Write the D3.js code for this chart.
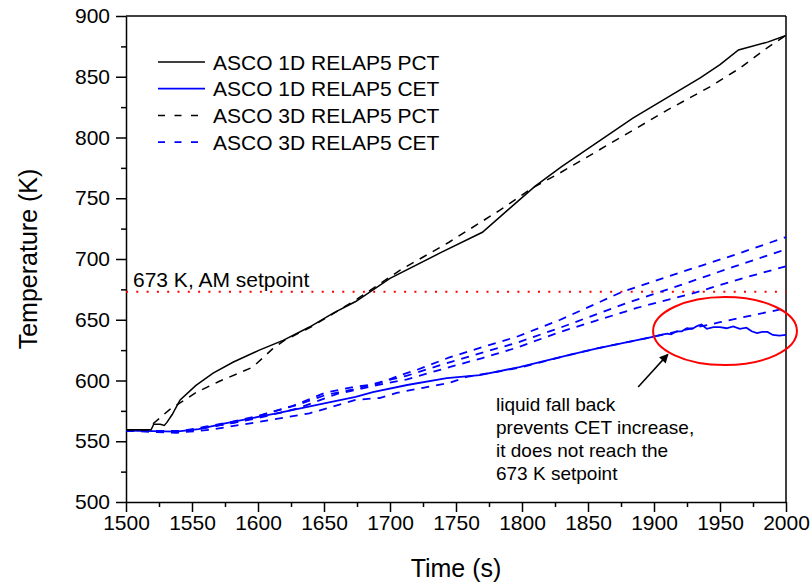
<!DOCTYPE html>
<html>
<head>
<meta charset="utf-8">
<script src="https://cdn.jsdelivr.net/npm/d3@7"></script>
<style>
  body { margin: 0; background: #fff; }
  svg { display: block; font-family: "Liberation Sans", Arial, sans-serif; }
  .axis path, .axis line { stroke: #000; stroke-width: 1.5; }
  .axis text { font-size: 21px; fill: #000; }
</style>
</head>
<body>
<div id="chart"></div>
<script>
// series: [time (s), temperature (K)]
const pct1D = [[1500,559.5],[1519,559.5],[1521,564],[1526,564],[1529,563],[1531,565.5],[1535,572],[1541,584],[1553,596],
  [1566,606],[1581,615],[1601,625],[1619,633],[1639,644],[1657,655.5],[1674,665],[1700,684],[1738,705],[1770,722],
  [1790,741],[1810,760],[1830,776],[1884,816],[1935,849],[1950,860],[1964,872],[1986,878.5],[2000,884]];

const pct3D = [[1500,559.5],[1517,559.5],[1519,563],[1533,576],[1553,590],[1570,599],[1596,611],[1611,626],[1620,633],
  [1640,644],[1657,655],[1675,667],[1708,691],[1745,714],[1783,740],[1808,758.5],[1829,771],[1910,822.5],[1942,841.5],
  [1965,857],[1986,874],[2000,884]];

const cet1D = [[1500,558.7],[1520,558.3],[1538,558],[1555,560],[1576,565],[1600,570],[1614,573],[1652,581.5],[1674,586.5],
  [1687,590.5],[1713,596.3],[1743,602],[1768,604.5],[1798,611],[1836,621],[1857,626.5],[1899,636],[1905,637.5],[1910,638.5],
  [1913,638],[1917,640.5],[1921,640.5],[1925,643],[1929,642.5],[1933,645],[1936,646],[1940,642.5],[1945,644],[1950,644],
  [1955,643],[1960,644.5],[1965,642.5],[1970,643.5],[1974,640.5],[1978,639],[1982,640],[1986,640],[1990,637.5],
  [1995,637],[2000,637.5]];

const cet3D_a = [[1500,558.5],[1538,557],[1563,559.3],[1601,566],[1639,573],[1674,584],[1692,585.6],[1705,589.8],[1725,594],
  [1745,598],[1758,603],[1780,607],[1800,611],[1836,621],[1857,626.5],[1900,636],[1950,648],[2000,659.5]];

const cet3D_b = [[1500,558.5],[1540,558],[1560,562],[1580,566],[1601,571],[1626,579],[1651,590],[1674,595],[1690,597],
  [1708,604.5],[1720,608.6],[1745,619],[1770,627.5],[1796,636],[1829,650],[1876,673],[1920,689],[1960,703],[2000,718]];

const cet3D_c = [[1500,558.5],[1545,558.5],[1565,562],[1590,567],[1607,573],[1630,580],[1651,588],[1674,593],[1694,599],
  [1713,604],[1745,615],[1770,623],[1796,631],[1829,643.5],[1880,664],[1920,678.5],[1960,693.5],[2000,708]];

const cet3D_d = [[1500,558.5],[1545,558],[1570,563],[1600,569],[1630,577],[1660,589],[1694,597],[1713,601],[1745,611],
  [1770,618.5],[1796,627],[1829,640],[1887,659.7],[1930,672],[1970,685],[2000,694]];

const legendLabels = ["ASCO 1D RELAP5 PCT", "ASCO 1D RELAP5 CET", "ASCO 3D RELAP5 PCT", "ASCO 3D RELAP5 CET"];
const xTicks = [1500, 1550, 1600, 1650, 1700, 1750, 1800, 1850, 1900, 1950, 2000];
const yTicks = [500, 550, 600, 650, 700, 750, 800, 850, 900];
const setpoint = 673;
const noteLines = ["liquid fall back", "prevents CET increase,", "it does not reach the", "673 K setpoint"];

const width = 812, height = 586;
const margin = { t: 16, r: 26, b: 84, l: 126 };
const w = width - margin.l - margin.r;
const h = height - margin.t - margin.b;

const svg = d3.select('#chart').append('svg')
    .attr('width', width)
    .attr('height', height);

svg.append('defs').append('marker')
    .attr('id', 'arrow')
    .attr('viewBox', '0 0 10 10')
    .attr('refX', 9).attr('refY', 5)
    .attr('markerWidth', 13).attr('markerHeight', 9)
    .attr('markerUnits', 'userSpaceOnUse')
    .attr('orient', 'auto')
    .append('path')
    .attr('d', 'M0,0L10,5L0,10Z')
    .attr('fill', '#000');

const plot = svg.append('g')
    .attr('transform', `translate(${margin.l},${margin.t})`);

const scaleX = d3.scaleLinear().domain([1500, 2000]).range([0, w]);
const scaleY = d3.scaleLinear().domain([500, 900]).range([h, 0]);

const minorX = d3.range(1525, 2000, 50);
const minorY = d3.range(525, 900, 50);

// minor ticks first, then major axes on top
plot.append('g').attr('class', 'axis')
    .attr('transform', `translate(0,${h})`)
    .call(d3.axisBottom(scaleX).tickValues(minorX).tickSize(5).tickFormat(''))
    .select('.domain').remove();
plot.append('g').attr('class', 'axis')
    .call(d3.axisLeft(scaleY).tickValues(minorY).tickSize(5).tickFormat(''))
    .select('.domain').remove();

plot.append('g').attr('class', 'axis axis-x')
    .attr('transform', `translate(0,${h})`)
    .call(d3.axisBottom(scaleX).tickValues(xTicks).tickSize(10).tickSizeOuter(0).tickPadding(3).tickFormat(d3.format('d')));
plot.append('g').attr('class', 'axis axis-y')
    .call(d3.axisLeft(scaleY).tickValues(yTicks).tickSize(10).tickSizeOuter(0).tickPadding(6).tickFormat(d3.format('d')));

// top and right frame
plot.append('line').attr('x1', 0).attr('x2', w).attr('y1', 0).attr('y2', 0)
    .attr('stroke', '#000').attr('stroke-width', 1.5);
plot.append('line').attr('x1', w).attr('x2', w).attr('y1', 0).attr('y2', h)
    .attr('stroke', '#000').attr('stroke-width', 1.5);

// setpoint
plot.append('line')
    .attr('x1', scaleX(1500)).attr('x2', scaleX(2000))
    .attr('y1', scaleY(setpoint)).attr('y2', scaleY(setpoint))
    .attr('stroke', '#ff0000').attr('stroke-width', 2)
    .attr('stroke-dasharray', '2,8.3');
plot.append('text')
    .attr('x', scaleX(1500) + 7).attr('y', scaleY(setpoint) - 5)
    .attr('font-size', 21)
    .text(`${setpoint} K, AM setpoint`);

const line = d3.line().x(d => scaleX(d[0])).y(d => scaleY(d[1]));

const series = [
    { data: cet3D_a, color: '#0000ff', dash: '8,7', sw: 1.8 },
    { data: cet3D_b, color: '#0000ff', dash: '8,7', sw: 1.8 },
    { data: cet3D_c, color: '#0000ff', dash: '8,7', sw: 1.8 },
    { data: cet3D_d, color: '#0000ff', dash: '8,7', sw: 1.8 },
    { data: cet1D, color: '#0000ff', dash: null, sw: 1.8 },
    { data: pct3D, color: '#000', dash: '8,7', sw: 1.5 },
    { data: pct1D, color: '#000', dash: null, sw: 1.5 }
];

plot.selectAll('.series')
    .data(series)
    .enter().append('path')
    .attr('class', 'series')
    .attr('d', d => line(d.data))
    .attr('fill', 'none')
    .attr('stroke', d => d.color)
    .attr('stroke-width', d => d.sw)
    .attr('stroke-dasharray', d => d.dash);

// ellipse around the CET plateau
const ex = 1953.8, ey = 640.7, erx = 54.5, ery = 28;
plot.append('ellipse')
    .attr('cx', scaleX(ex)).attr('cy', scaleY(ey))
    .attr('rx', scaleX(1500 + erx) - scaleX(1500))
    .attr('ry', scaleY(500) - scaleY(500 + ery))
    .attr('fill', 'none')
    .attr('stroke', '#ff0000')
    .attr('stroke-width', 2);

// arrow + note
plot.append('line')
    .attr('x1', scaleX(1888)).attr('y1', scaleY(594.7))
    .attr('x2', scaleX(1910.5)).attr('y2', scaleY(621.5))
    .attr('stroke', '#000').attr('stroke-width', 1.5)
    .attr('marker-end', 'url(#arrow)');

plot.append('text')
    .attr('font-size', 19)
    .attr('y', scaleY(575.2))
    .selectAll('tspan')
    .data(noteLines)
    .enter().append('tspan')
    .attr('x', scaleX(1780.3))
    .attr('dy', (d, i) => i === 0 ? 0 : 23)
    .text(d => d);

// legend
const legendStyle = [
    { color: '#000', dash: null },
    { color: '#0000ff', dash: null },
    { color: '#000', dash: '7,9.5' },
    { color: '#0000ff', dash: '7,9.5' }
];
const legend = svg.append('g').attr('class', 'legend');
const item = legend.selectAll('g')
    .data(legendLabels)
    .enter().append('g')
    .attr('transform', (d, i) => `translate(158,${62 + i * 26.7})`);
item.append('line')
    .attr('x1', 0).attr('x2', 47)
    .attr('stroke', (d, i) => legendStyle[i].color)
    .attr('stroke-width', (d, i) => i % 2 ? 1.8 : 1.5)
    .attr('stroke-dasharray', (d, i) => legendStyle[i].dash);
item.append('text')
    .attr('x', 55).attr('y', 7.5)
    .attr('font-size', 21)
    .text(d => d);

// axis titles
svg.append('text')
    .attr('x', margin.l + w / 2).attr('y', 577)
    .attr('text-anchor', 'middle')
    .attr('font-size', 25)
    .text('Time (s)');
svg.append('text')
    .attr('transform', `translate(37,${margin.t + h / 2}) rotate(-90)`)
    .attr('text-anchor', 'middle')
    .attr('font-size', 25)
    .text('Temperature (K)');
</script>
</body>
</html>
